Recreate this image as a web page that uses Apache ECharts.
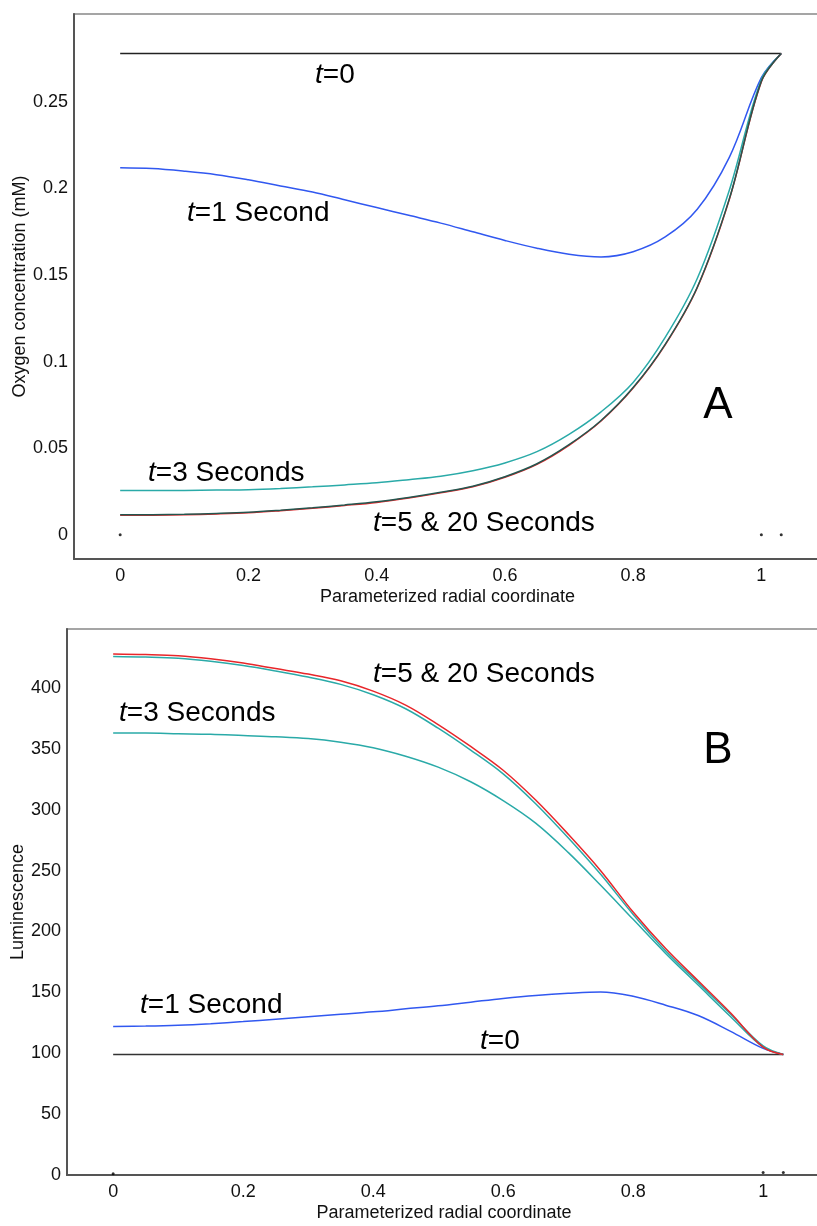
<!DOCTYPE html>
<html>
<head>
<meta charset="utf-8">
<script src="https://cdn.jsdelivr.net/npm/echarts@6/dist/echarts.min.js"></script>
<style>
  html, body { margin: 0; padding: 0; background: #fff; }
  #chart { width: 817px; height: 1226px; }
</style>
</head>
<body>
<div id="chart"></div>
<script>
    // radial positions shared by every curve
    const radius = [0, 0.05, 0.1, 0.15, 0.2, 0.25, 0.3, 0.35, 0.4, 0.45, 0.5, 0.55, 0.6, 0.65, 0.7, 0.75, 0.8, 0.85, 0.9, 0.95, 1.0, 1.031];

    // panel A: oxygen concentration (mM)
    const oxyT0  = [0.278, 0.278, 0.278, 0.278, 0.278, 0.278, 0.278, 0.278, 0.278, 0.278, 0.278, 0.278, 0.278, 0.278, 0.278, 0.278, 0.278, 0.278, 0.278, 0.278, 0.278, 0.278];
    const oxyT1  = [0.212, 0.2115, 0.210, 0.208, 0.205, 0.2015, 0.198, 0.1935, 0.189, 0.1845, 0.180, 0.175, 0.170, 0.1655, 0.162, 0.1605, 0.1635, 0.172, 0.188, 0.218, 0.264, 0.278];
    const oxyT3  = [0.0255, 0.0255, 0.0256, 0.0258, 0.026, 0.0267, 0.0277, 0.0288, 0.030, 0.0318, 0.0338, 0.037, 0.0415, 0.048, 0.058, 0.071, 0.088, 0.114, 0.148, 0.199, 0.263, 0.278];
    const oxyT5  = [0.0115, 0.0116, 0.0118, 0.0123, 0.013, 0.0142, 0.0156, 0.0172, 0.019, 0.0215, 0.0245, 0.028, 0.0335, 0.041, 0.052, 0.066, 0.085, 0.110, 0.143, 0.194, 0.262, 0.278];
    const oxyT20 = [0.0112, 0.0113, 0.0115, 0.012, 0.0127, 0.0139, 0.0153, 0.0169, 0.0187, 0.0212, 0.0242, 0.0277, 0.0332, 0.0407, 0.0517, 0.0657, 0.0847, 0.1097, 0.1427, 0.1937, 0.2617, 0.278];

    // panel B: luminescence
    const lumT0  = [99, 99, 99, 99, 99, 99, 99, 99, 99, 99, 99, 99, 99, 99, 99, 99, 99, 99, 99, 99, 99, 99];
    const lumT1  = [122, 122.3, 123, 124.3, 126, 128, 130, 132, 134, 136.5, 139, 142, 145, 147.5, 149.3, 150.4, 146.8, 139.5, 131, 118, 104, 99];
    const lumT3  = [363, 363, 362.5, 362, 361, 360, 358.5, 355.5, 351, 344, 335, 323, 307.5, 289, 265, 238, 210, 182, 156, 130, 105, 99];
    const lumT5  = [426, 425.5, 424.5, 422, 418.5, 414, 409, 403, 394.5, 383, 367, 349, 329.5, 305, 277, 247, 214, 184, 158, 132, 106, 99];
    const lumT20 = [428, 427.5, 426.5, 424, 420.5, 416, 411.5, 406, 397.5, 386, 370, 352, 332.5, 308, 280, 250, 216, 186, 159.5, 133, 105, 99];

    // stray plot markers along the x axis
    const dotX = [0, 1, 1.031];
    const dotA = [0, 0, 0];
    const dotB = [1, 2, 2];

    const xTicks = [0, 0.2, 0.4, 0.6, 0.8, 1];
    const yTicksA = [0, 0.05, 0.1, 0.15, 0.2, 0.25];
    const yTicksB = [0, 50, 100, 150, 200, 250, 300, 350, 400];

    const FONT = '"Liberation Sans", Arial, Helvetica, sans-serif';

    function pairs(xs, ys) {
        return xs.map((x, i) => [x, ys[i]]);
    }

    function line(name, ys, color, idx, width) {
        return {
            name: name,
            type: 'line',
            xAxisIndex: idx,
            yAxisIndex: idx,
            data: pairs(radius, ys),
            showSymbol: false,
            smooth: 0.35,
            lineStyle: { color: color, width: width || 1.5 },
            silent: true
        };
    }

    function dots(ys, idx) {
        return {
            type: 'scatter',
            xAxisIndex: idx,
            yAxisIndex: idx,
            data: pairs(dotX, ys),
            symbolSize: 3,
            itemStyle: { color: '#000' },
            silent: true
        };
    }

    function xAxis(idx, min, max) {
        return {
            type: 'value',
            gridIndex: idx,
            min: min,
            max: max,
            name: 'Parameterized radial coordinate',
            nameLocation: 'middle',
            nameGap: 29,
            nameMoveOverlap: false,
            nameTextStyle: { fontFamily: FONT, fontSize: 18, color: '#111' },
            axisLine: { show: true, onZero: false, lineStyle: { color: '#555', width: 2 } },
            axisTick: { show: false },
            splitLine: { show: false },
            axisLabel: {
                customValues: xTicks,
                margin: 8,
                fontFamily: FONT,
                fontSize: 18,
                color: '#111',
                showMinLabel: true,
                showMaxLabel: true
            }
        };
    }

    function yAxis(idx, min, max, ticks, name, gap) {
        return {
            type: 'value',
            gridIndex: idx,
            min: min,
            max: max,
            name: name,
            nameLocation: 'middle',
            nameGap: gap,
            nameMoveOverlap: false,
            nameTextStyle: { fontFamily: FONT, fontSize: 18, color: '#111' },
            axisLine: { show: true, onZero: false, lineStyle: { color: '#555', width: 2 } },
            axisTick: { show: false },
            splitLine: { show: false },
            axisLabel: {
                customValues: ticks,
                margin: 6,
                fontFamily: FONT,
                fontSize: 18,
                color: '#111'
            }
        };
    }

    function label(text, x, y, size) {
        let s = size || 28;
        let m = text.match(/^t(.*)$/);
        let rich = {
            i: { fontStyle: 'italic', fontSize: s, fontFamily: FONT, fill: '#000' },
            n: { fontSize: s, fontFamily: FONT, fill: '#000' }
        };
        return {
            type: 'text',
            x: x,
            y: y,
            silent: true,
            style: {
                text: m ? '{i|t}{n|' + m[1] + '}' : '{n|' + text + '}',
                rich: rich,
                fontSize: s,
                fontFamily: FONT,
                fill: '#000',
                verticalAlign: 'middle',
                align: 'left'
            }
        };
    }

    let chart = echarts.init(document.getElementById('chart'), null, { renderer: 'canvas' });
    let option = {
        animation: false,
        backgroundColor: '#fff',
        grid: [
            { left: 74, top: 14, right: -4, bottom: 667, outerBoundsMode: 'none', containLabel: false,
              show: true, borderColor: '#888', borderWidth: 1.5, backgroundColor: 'transparent' },
            { left: 67, top: 629, right: -4, bottom: 51, outerBoundsMode: 'none', containLabel: false,
              show: true, borderColor: '#888', borderWidth: 1.5, backgroundColor: 'transparent' }
        ],
        xAxis: [
            xAxis(0, -0.072, 1.093),
            xAxis(1, -0.071, 1.089)
        ],
        yAxis: [
            yAxis(0, -0.014, 0.3008, yTicksA, 'Oxygen concentration (mM)', 45),
            yAxis(1, 0, 448.5, yTicksB, 'Luminescence', 40)
        ],
        series: [
            line('t=0', oxyT0, '#222', 0),
            line('t=1', oxyT1, '#3158f0', 0),
            line('t=3', oxyT3, '#2aaaa8', 0),
            line('t=20', oxyT20, '#e8262a', 0),
            line('t=5', oxyT5, '#24564f', 0),
            dots(dotA, 0),
            line('t=0', lumT0, '#333', 1),
            line('t=1', lumT1, '#3158f0', 1),
            line('t=3', lumT3, '#2aaaa8', 1),
            line('t=5', lumT5, '#2aaaa8', 1),
            line('t=20', lumT20, '#e8262a', 1),
            dots(dotB, 1)
        ],
        graphic: [
            label('t=0', 315, 75),
            label('t=1 Second', 187, 213),
            label('t=3 Seconds', 148, 473),
            label('t=5 & 20 Seconds', 373, 523),
            { type: 'text', x: 718, y: 406, silent: true,
              style: { text: 'A', fontSize: 44, fontFamily: FONT, fill: '#000', align: 'center', verticalAlign: 'middle' } },
            label('t=5 & 20 Seconds', 373, 674),
            label('t=3 Seconds', 119, 713),
            label('t=1 Second', 140, 1005),
            label('t=0', 480, 1041),
            { type: 'text', x: 718, y: 751, silent: true,
              style: { text: 'B', fontSize: 44, fontFamily: FONT, fill: '#000', align: 'center', verticalAlign: 'middle' } }
        ]
    };
    chart.setOption(option);
</script>
</body>
</html>
